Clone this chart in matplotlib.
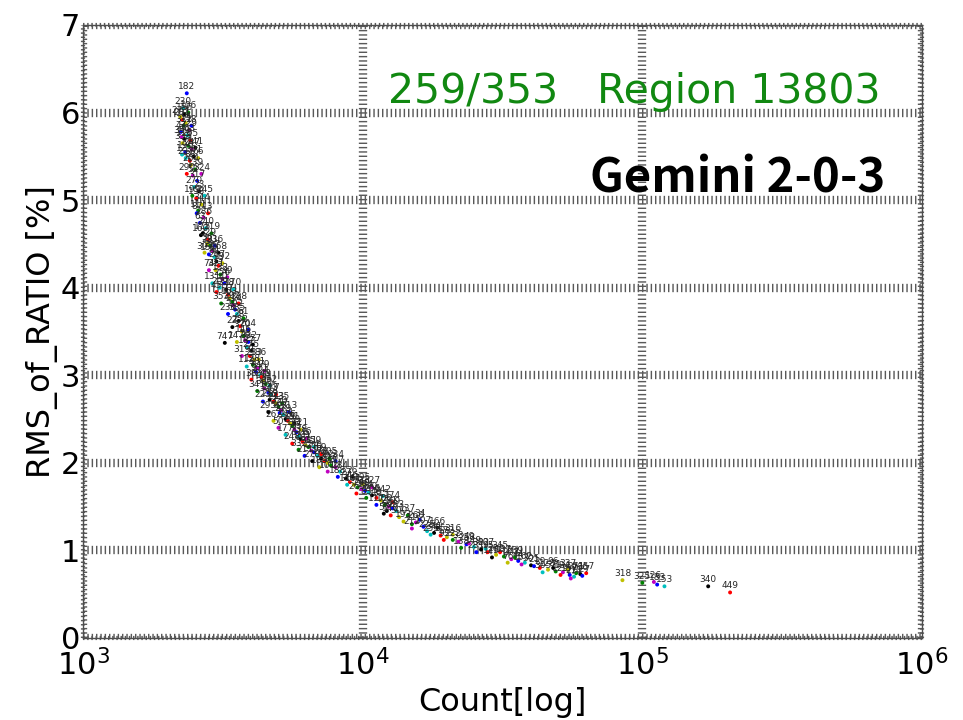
import matplotlib
matplotlib.use('Agg')
import matplotlib.pyplot as plt

# counts, rms of ratio [%] and region labels
counts = [
	2350, 2280, 2310, 2260, 2330, 2290, 2400, 2240, 2360, 2300, 2420, 2270, 2380, 2450, 2320, 2260, 2490, 2410,
	2430, 2520, 2470, 2560, 2500, 2600, 2540, 2650, 2580, 2700, 2620, 2750, 2680, 2800,
	2780, 2850, 2900, 2820, 2950, 3000, 3050, 2980, 3100, 3150, 3200, 3080, 3250, 3300, 3350, 3420,
	3450, 3500, 3550, 3600, 3650, 3700, 3750, 3800, 3900, 3850, 4000, 3950, 4100, 4050, 4200, 4150, 4300,
	3214,
	4350, 4400, 4500, 4450, 4600, 4700, 4650, 4800, 4900, 5000, 5100, 5050, 5200, 5300, 5400, 5500, 5600, 5700, 5800, 5900, 6000,
	6100, 6250, 6400, 6550, 6700, 6900, 7100, 7300, 7500, 7700, 8000, 8150, 8300,
	8700, 9000, 9300, 9600, 9900, 10200, 10500, 10800, 11200, 11600, 12000, 12400, 12800, 13200, 11900, 12600,
	14000, 15000, 15500, 16500, 17000, 18000, 19000, 20000, 21000, 22000, 23500, 25000, 26500,
	28000, 30000, 32000, 34000, 36000, 38000, 40000, 43000, 46000, 49000, 52000, 55000, 57000, 60000, 63000,
	84900, 100000, 110000, 113000, 120000, 172000, 206000,
]
rms = [
	6.22, 6.05, 5.98, 5.92, 5.88, 5.85, 5.80, 5.78, 5.74, 5.70, 5.68, 5.65, 5.62, 5.58, 5.55, 5.52, 5.50, 5.45,
	5.40, 5.35, 5.28, 5.22, 5.15, 5.10, 5.02, 4.95, 4.88, 4.80, 4.74, 4.68, 4.62, 4.55,
	4.50, 4.48, 4.42, 4.38, 4.35, 4.30, 4.25, 4.20, 4.15, 4.10, 4.05, 4.00, 3.98, 3.92, 3.88, 3.84,
	3.80, 3.75, 3.70, 3.62, 3.56, 3.50, 3.45, 3.40, 3.38, 3.32, 3.28, 3.22, 3.18, 3.12, 3.08, 3.04, 3.00,
	3.37,
	2.98, 2.94, 2.90, 2.85, 2.80, 2.78, 2.72, 2.70, 2.68, 2.64, 2.60, 2.57, 2.55, 2.50, 2.48, 2.45, 2.42, 2.38, 2.35, 2.30, 2.27,
	2.24, 2.20, 2.18, 2.14, 2.12, 2.08, 2.05, 2.02, 2.00, 1.97, 1.95, 1.84, 1.90,
	1.82, 1.78, 1.75, 1.72, 1.70, 1.68, 1.66, 1.63, 1.60, 1.57, 1.52, 1.50, 1.48, 1.45, 1.42, 1.40,
	1.33, 1.30, 1.32, 1.27, 1.22, 1.20, 1.17, 1.15, 1.12, 1.10, 1.07, 1.04, 1.01,
	0.98, 0.95, 0.93, 0.90, 0.88, 0.86, 0.83, 0.80, 0.78, 0.76, 0.75, 0.72, 0.70, 0.73, 0.74,
	0.66, 0.63, 0.64, 0.61, 0.59, 0.59, 0.52,
]
labels = [
	182, 230, 156, 281, 94, 312, 229, 47, 263, 118, 205, 333, 71, 247, 190, 12, 301, 88,
	264, 139, 52, 317, 270, 23, 198, 344, 111, 286, 63, 240, 175, 329,
	36, 221, 297, 150, 84, 267, 19, 311, 132, 256, 41, 209, 338, 77, 163, 292,
	214, 102, 385, 28, 252, 370, 146, 58, 322, 187, 275, 9, 233, 128, 301, 64, 271,
	747,
	124, 243, 31, 309, 196, 143, 259, 82, 213, 350, 167, 43, 279, 104, 226, 15, 299, 171, 55, 238, 116,
	201, 67, 331, 154, 250, 92, 178, 39, 303, 120, 217, 188, 284,
	27, 346, 161, 73, 249, 134, 390, 206, 48, 315, 100, 231, 169, 283, 57, 140,
	193, 11, 260, 107, 225, 341, 85, 172, 222, 33, 258, 149, 302,
	95, 202, 137, 277, 44, 162, 305, 29, 128, 71, 184, 137, 211, 266, 157,
	318, 325, 126, 183, 153, 340, 449,
]

# second group of regions, spread either side of the first
counts2 = [
	2230, 2380, 2250, 2440, 2330, 2520, 2350, 2580, 2460, 2650, 2550, 2720, 2640, 2800, 2720, 2880,
	2820, 2960, 2900, 3050, 3000, 3150, 3120, 3280, 3300, 3450, 3420, 3600, 3550, 3750, 3700, 3900,
	3850, 4050, 4000, 4250, 4200, 4450, 4400, 4650, 4600, 4900, 4800, 5150, 5000, 5450, 5300, 5700,
	5600, 6000, 5900, 6300, 6200, 6700, 6600, 7100, 7000, 7600, 7500, 8000,
	8800, 9200, 9500, 10000, 10300, 10800, 11200, 11800, 12200, 12800, 13500, 14500, 15000, 16000,
	17500, 18500, 19500, 21000, 22500, 24000, 25500, 27500, 29000, 31000, 33000, 35000, 37000, 41000,
	44000, 48000, 51000, 54000, 58000, 55500, 61000,
]
rms2 = [
	5.95, 6.00, 5.72, 5.85, 5.48, 5.60, 5.30, 5.48, 5.05, 5.30, 4.85, 5.05, 4.60, 4.85, 4.40, 4.62,
	4.20, 4.48, 4.05, 4.40, 3.95, 4.28, 3.82, 4.12, 3.70, 3.98, 3.55, 3.82, 3.38, 3.65, 3.22, 3.52,
	3.10, 3.35, 2.95, 3.18, 2.82, 3.05, 2.70, 2.88, 2.58, 2.78, 2.48, 2.68, 2.40, 2.58, 2.32, 2.45,
	2.22, 2.38, 2.15, 2.28, 2.08, 2.18, 2.02, 2.10, 1.95, 2.05, 1.90, 2.02,
	1.75, 1.84, 1.65, 1.76, 1.60, 1.72, 1.52, 1.62, 1.45, 1.55, 1.38, 1.40, 1.25, 1.35,
	1.18, 1.26, 1.12, 1.18, 1.03, 1.08, 0.98, 1.02, 0.92, 0.98, 0.86, 0.92, 0.84, 0.82,
	0.75, 0.80, 0.72, 0.78, 0.74, 0.68, 0.71,
]
labels2 = [
	273, 106, 359, 18, 227, 141, 290, 66, 199, 324, 87, 245, 160, 13, 307, 219,
	74, 336, 131, 268, 45, 192, 353, 99, 236, 170, 22, 288, 147, 61, 319, 204,
	112, 257, 38, 186, 341, 79, 223, 152, 295, 7, 262, 135, 50, 313, 177, 91,
	248, 121, 332, 16, 211, 159, 278, 69, 189, 305, 101, 234,
	144, 26, 265, 195, 83, 327, 117, 242, 59, 174, 300, 137, 212, 34,
	255, 166, 93, 316, 138, 49, 281, 207, 125, 345, 76, 239, 157, 21,
	305, 96, 129, 337, 271, 77, 127,
]

all_counts = counts + counts2
all_rms = rms + rms2
all_labels = labels + labels2

colors = ['b', 'g', 'r', 'c', 'm', 'y', 'k']
point_colors = [colors[(i * 3) % len(colors)] for i in range(len(all_counts))]

fig = plt.figure(figsize=(9.63, 7.2), dpi=100)
ax = fig.add_axes([0.0862, 0.1139, 0.8712, 0.8514])

ax.scatter(all_counts, all_rms, s=8, c=point_colors, zorder=3, linewidths=0)
for x, y, lab in zip(all_counts, all_rms, all_labels):
	ax.annotate(str(lab), (x, y), xytext=(0, 1.5), textcoords='offset points',
		fontsize=6.5, color='0.15', ha='center', va='bottom', zorder=4)

ax.set_xscale('log')
ax.set_xlim(1e3, 1e6)
ax.set_ylim(0, 7)
ax.set_yticks(range(8))
ax.minorticks_off()
ax.tick_params(axis='both', which='both', length=0, labelsize=22)
ax.tick_params(axis='x', pad=8)
ax.tick_params(axis='y', pad=2)

grid_style = dict(color='0.35', linewidth=6, linestyle=(0, (0.17, 0.35)))
ax.grid(True, which='major', **grid_style)
ax.set_axisbelow(True)

# hatched frame
for xs, ys in [([0, 1], [0, 0]), ([0, 1], [1, 1]), ([0, 0], [0, 1]), ([1, 1], [0, 1])]:
	ax.plot(xs, ys, transform=ax.transAxes, color='0.35', linewidth=3,
		linestyle=(0, (0.35, 0.65)), clip_on=False, zorder=1)
for sp in ax.spines.values():
	sp.set_linewidth(1)
	sp.set_color('0.3')

ax.set_xlabel('Count[log]', fontsize=23, labelpad=4)
ax.set_ylabel('RMS_of_RATIO [%]', fontsize=23, labelpad=2)

ax.text(0.950, 0.873, '259/353   Region 13803', transform=ax.transAxes, fontsize=29.5,
	color='#118811', ha='right', va='baseline')
ax.text(0.956, 0.726, 'Gemini 2-0-3', transform=ax.transAxes, fontsize=34,
	fontweight='bold', family=['Noto Sans CJK JP', 'DejaVu Sans'], ha='right', va='baseline')

fig.savefig('out.png', dpi=100)
